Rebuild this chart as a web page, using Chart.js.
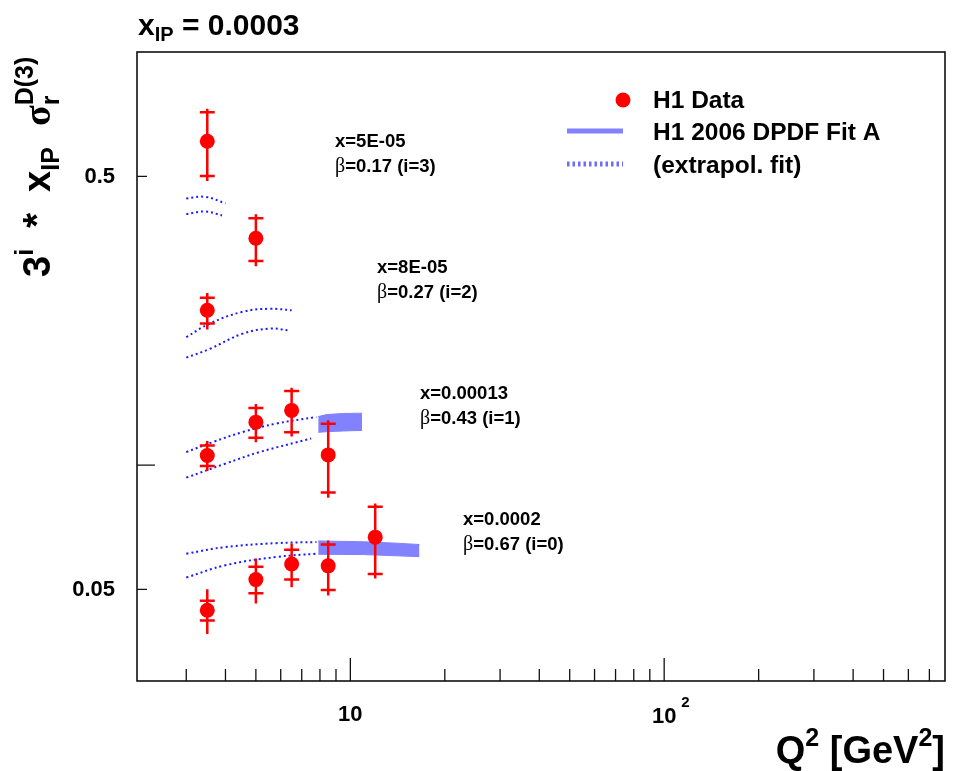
<!DOCTYPE html>
<html>
<head>
<meta charset="utf-8">
<script src="https://cdn.jsdelivr.net/npm/chart.js@4.4.1/dist/chart.umd.min.js"></script>
<style>
  html, body { margin: 0; padding: 0; background: #fff; }
</style>
</head>
<body>
<canvas id="Chart" width="954" height="771"></canvas>
<script>
// Q2 bins of the measurement
const q2Bins = [3.5, 5, 6.5, 8.5, 12];

// 3^i * xIP * sigma_r, stat and total errors for each beta bin
const sigmaI3 = [0.608, 0.354];
const statI3 = [0.107, 0.042];
const totI3 = [0.121, 0.051];

const sigmaI2 = [0.237];
const statI2 = [0.017];
const totI2 = [0.024];

const sigmaI1 = [0.1055, 0.127, 0.1356, 0.1058];
const statI1 = [0.006, 0.0105, 0.0155, 0.020];
const totI1 = [0.0088, 0.0135, 0.0183, 0.0225];

const sigmaI0 = [0.0445, 0.0528, 0.0576, 0.0570, 0.0669];
const statI0 = [0.00245, 0.0039, 0.0048, 0.0072, 0.0124];
const totI0 = [0.0055, 0.0066, 0.0070, 0.0087, 0.01375];

// H1 2006 DPDF Fit A error band
const fitQ2I1 = [7.9, 8.4, 9.5, 10.9];
const fitHiI1 = [0.1310, 0.1325, 0.1333, 0.1335];
const fitLoI1 = [0.1200, 0.1204, 0.1209, 0.1213];
const fitQ2I0 = [7.9, 11, 14, 16.6];
const fitHiI0 = [0.0655, 0.0652, 0.0647, 0.0642];
const fitLoI0 = [0.0608, 0.0607, 0.0603, 0.0600];

// extrapolated fit (dotted), upper and lower edge
const extQ2HiI3 = [3.0, 3.45, 4.0];
const extHiI3 = [0.442, 0.446, 0.430];
const extQ2LoI3 = [3.0, 3.45, 3.9];
const extLoI3 = [0.405, 0.411, 0.402];

const extQ2HiI2 = [3.0, 3.56, 4.54, 5.53, 6.5];
const extHiI2 = [0.204, 0.220, 0.235, 0.239, 0.237];
const extQ2LoI2 = [3.0, 3.56, 4.54, 5.53, 6.3];
const extLoI2 = [0.182, 0.191, 0.208, 0.214, 0.212];

const extQ2HiI1 = [3.0, 3.65, 4.54, 5.81, 7.8];
const extHiI1 = [0.1075, 0.1137, 0.1202, 0.126, 0.1307];
const extQ2LoI1 = [3.0, 4.0, 5.14, 7.5];
const extLoI1 = [0.0932, 0.1008, 0.1075, 0.1159];

const extQ2I0 = [3.0, 4.0, 5.81, 7.8];
const extHiI0 = [0.0610, 0.0633, 0.0647, 0.0651];
const extLoI0 = [0.0534, 0.0572, 0.0599, 0.0610];

// axis ticks
const xMajorTicks = [10, 100];
const xMinorTicks = [3, 4, 5, 6, 7, 8, 9, 20, 30, 40, 50, 60, 70, 80, 90, 200, 300, 400, 500, 600, 700];
const yMajorTicks = [0.1];
const yMinorTicks = [0.05, 0.5];
const yTickLabels = ['0.05', '0.5'];

// bin labels
const binX = ['x=5E-05', 'x=8E-05', 'x=0.00013', 'x=0.0002'];
const binBeta = ['=0.17 (i=3)', '=0.27 (i=2)', '=0.43 (i=1)', '=0.67 (i=0)'];

const RED = '#ff0000';
const BAND = '#8282ff';
const DOTS = '#1a1aff';
const SANS = '"Liberation Sans", Arial, sans-serif';
const SERIF = '"Liberation Serif", serif';

const pts = (xs, ys) => xs.map((x, i) => ({ x: x, y: ys[i] }));

const groups = [
  { y: sigmaI3, stat: statI3, tot: totI3 },
  { y: sigmaI2, stat: statI2, tot: totI2 },
  { y: sigmaI1, stat: statI1, tot: totI1 },
  { y: sigmaI0, stat: statI0, tot: totI0 }
];

const fontOf = (p) => `${p.w || 'bold'} ${p.s}px ${p.serif ? SERIF : SANS}`;

const richWidth = (ctx, parts) => {
  let w = 0, hold = 0;
  parts.forEach(p => {
    ctx.font = fontOf(p);
    const pw = ctx.measureText(p.t).width;
    if (p.stack) { hold = pw; } else { w += Math.max(pw, hold); hold = 0; }
  });
  return w;
};

const drawRich = (ctx, x, y, parts) => {
  let cx = x, hold = 0;
  ctx.textAlign = 'left';
  ctx.textBaseline = 'alphabetic';
  parts.forEach(p => {
    ctx.font = fontOf(p);
    ctx.fillText(p.t, cx, y + (p.dy || 0));
    const pw = ctx.measureText(p.t).width;
    if (p.stack) { hold = pw; } else { cx += Math.max(pw, hold); hold = 0; }
  });
};

const errorBars = {
  id: 'errorBars',
  afterDatasetsDraw(chart) {
    const { ctx, scales: { x, y } } = chart;
    ctx.save();
    ctx.strokeStyle = RED;
    ctx.lineWidth = 2.5;
    groups.forEach(g => {
      g.y.forEach((v, i) => {
        const px = x.getPixelForValue(q2Bins[i]);
        ctx.beginPath();
        ctx.moveTo(px, y.getPixelForValue(v + g.tot[i]));
        ctx.lineTo(px, y.getPixelForValue(v - g.tot[i]));
        [v + g.stat[i], v - g.stat[i]].forEach(e => {
          const py = y.getPixelForValue(e);
          ctx.moveTo(px - 7.5, py);
          ctx.lineTo(px + 7.5, py);
        });
        ctx.stroke();
      });
    });
    ctx.restore();
  }
};

const rootFrame = {
  id: 'rootFrame',
  afterDraw(chart) {
    const { ctx, chartArea: a, scales: { x, y } } = chart;
    ctx.save();
    ctx.strokeStyle = '#111';
    ctx.lineWidth = 1.6;
    ctx.strokeRect(a.left, a.top, a.right - a.left, a.bottom - a.top);

    ctx.lineWidth = 1.3;
    ctx.beginPath();
    xMajorTicks.forEach(t => { const px = x.getPixelForValue(t); ctx.moveTo(px, a.bottom); ctx.lineTo(px, a.bottom - 23); });
    xMinorTicks.forEach(t => { const px = x.getPixelForValue(t); ctx.moveTo(px, a.bottom); ctx.lineTo(px, a.bottom - 12); });
    yMajorTicks.forEach(t => { const py = y.getPixelForValue(t); ctx.moveTo(a.left, py); ctx.lineTo(a.left + 18, py); });
    yMinorTicks.forEach(t => { const py = y.getPixelForValue(t); ctx.moveTo(a.left, py); ctx.lineTo(a.left + 10, py); });
    ctx.stroke();

    ctx.fillStyle = '#000';
    // tick labels
    ctx.font = `bold 22px ${SANS}`;
    ctx.textAlign = 'right';
    ctx.textBaseline = 'middle';
    yMinorTicks.forEach((t, i) => ctx.fillText(yTickLabels[i], a.left - 22, y.getPixelForValue(t) + 1));
    ctx.textAlign = 'center';
    ctx.textBaseline = 'alphabetic';
    ctx.fillText('10', x.getPixelForValue(10), a.bottom + 40);
    ctx.fillText('10', x.getPixelForValue(100), a.bottom + 42);
    ctx.font = `bold 15px ${SANS}`;
    ctx.textAlign = 'left';
    ctx.fillText('2', x.getPixelForValue(100) + 17, a.bottom + 26);

    // title
    drawRich(ctx, 138, 35, [
      { t: 'x', s: 30 }, { t: 'IP', s: 20, dy: 6 }, { t: ' = 0.0003', s: 30 }
    ]);

    // x axis title, right aligned to the axis end
    const xTitle = [
      { t: 'Q', s: 38 }, { t: '2', s: 25, dy: -17 }, { t: ' [GeV', s: 38 },
      { t: '2', s: 25, dy: -17 }, { t: ']', s: 38 }
    ];
    drawRich(ctx, a.right - richWidth(ctx, xTitle), 763, xTitle);

    // y axis title, rotated
    const yTitle = [
      { t: '3', s: 38 }, { t: 'i', s: 25, dy: -17 }, { t: '  *  x', s: 38 },
      { t: 'IP', s: 25, dy: 9 }, { t: '  ', s: 38 }, { t: 'σ', s: 38, serif: true },
      { t: 'r', s: 25, dy: 9, stack: true }, { t: 'D(3)', s: 25, dy: -17 }
    ];
    ctx.save();
    ctx.translate(50, 277);
    ctx.rotate(-Math.PI / 2);
    drawRich(ctx, 0, 0, yTitle);
    ctx.restore();

    // bin labels
    const labelPos = [[335, 147], [377, 273], [420, 399], [463, 525]];
    labelPos.forEach((p, i) => {
      drawRich(ctx, p[0], p[1], [{ t: binX[i], s: 18.5 }]);
      drawRich(ctx, p[0], p[1] + 25, [{ t: 'β', s: 20, serif: true, w: 'normal' }, { t: binBeta[i], s: 18.5 }]);
    });

    // legend
    ctx.fillStyle = RED;
    ctx.beginPath();
    ctx.arc(623, 100, 7.5, 0, Math.PI * 2);
    ctx.fill();
    ctx.strokeStyle = BAND;
    ctx.lineWidth = 5;
    ctx.beginPath();
    ctx.moveTo(567, 131);
    ctx.lineTo(623, 131);
    ctx.stroke();
    ctx.strokeStyle = '#6c6cff';
    ctx.setLineDash([2.5, 3]);
    ctx.beginPath();
    ctx.moveTo(567, 164);
    ctx.lineTo(623, 164);
    ctx.stroke();
    ctx.setLineDash([]);
    ctx.fillStyle = '#000';
    drawRich(ctx, 653, 108, [{ t: 'H1 Data', s: 24.5 }]);
    drawRich(ctx, 653, 140, [{ t: 'H1 2006 DPDF Fit A', s: 24.5 }]);
    drawRich(ctx, 653, 173, [{ t: '(extrapol. fit)', s: 24.5 }]);
    ctx.restore();
  }
};

const bandSets = (xs, hi, lo) => [
  { data: pts(xs, hi), fill: '+1', backgroundColor: BAND, borderColor: BAND, borderWidth: 1, pointRadius: 0, order: 2 },
  { data: pts(xs, lo), fill: false, borderColor: BAND, borderWidth: 1, pointRadius: 0, order: 2 }
];

const extSet = (xs, ys) => ({
  data: pts(xs, ys), fill: false, borderColor: DOTS, borderWidth: 2, borderDash: [2, 3],
  pointRadius: 0, tension: 0.4, order: 1
});

const dataSet = (ys) => ({
  data: pts(q2Bins.slice(0, ys.length), ys), showLine: false, pointRadius: 7.5,
  pointBackgroundColor: RED, pointBorderWidth: 0, order: 0
});

const ctx = document.getElementById('Chart');

new Chart(ctx, {
  type: 'line',
  data: {
    datasets: [
      ...bandSets(fitQ2I1, fitHiI1, fitLoI1),
      ...bandSets(fitQ2I0, fitHiI0, fitLoI0),
      extSet(extQ2HiI3, extHiI3), extSet(extQ2LoI3, extLoI3),
      extSet(extQ2HiI2, extHiI2), extSet(extQ2LoI2, extLoI2),
      extSet(extQ2HiI1, extHiI1), extSet(extQ2LoI1, extLoI1),
      extSet(extQ2I0, extHiI0), extSet(extQ2I0, extLoI0),
      dataSet(sigmaI3), dataSet(sigmaI2), dataSet(sigmaI1), dataSet(sigmaI0)
    ]
  },
  options: {
    responsive: false,
    devicePixelRatio: 1,
    animation: false,
    events: [],
    layout: { padding: { top: 52, right: 9, left: 0, bottom: 0 } },
    plugins: { legend: { display: false }, tooltip: { enabled: false } },
    scales: {
      x: {
        type: 'logarithmic', min: 2.09, max: 785,
        ticks: { display: false }, grid: { display: false }, border: { display: false },
        afterFit: (s) => { s.height = 90; }
      },
      y: {
        type: 'logarithmic', min: 0.03, max: 1.0,
        ticks: { display: false }, grid: { display: false }, border: { display: false },
        afterFit: (s) => { s.width = 137; }
      }
    }
  },
  plugins: [errorBars, rootFrame]
});
</script>
</body>
</html>
